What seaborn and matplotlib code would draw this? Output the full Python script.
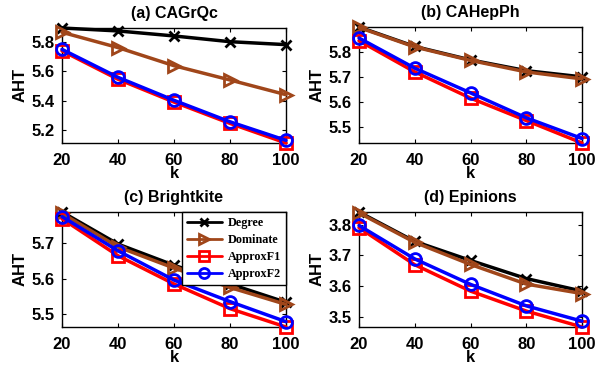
import numpy as np
import pandas as pd
import matplotlib
matplotlib.use("Agg")
import matplotlib.pyplot as plt
import seaborn as sns

k = [20, 40, 60, 80, 100]

titles = ["(a) CAGrQc", "(b) CAHepPh", "(c) Brightkite", "(d) Epinions"]
series_names = ["Degree", "Dominate", "ApproxF1", "ApproxF2"]

# (a) CAGrQc
a_degree = [5.893, 5.873, 5.839, 5.800, 5.780]
a_dominate = [5.864, 5.760, 5.637, 5.540, 5.440]
a_f1 = [5.738, 5.545, 5.390, 5.245, 5.112]
a_f2 = [5.748, 5.558, 5.402, 5.256, 5.130]

# (b) CAHepPh
b_degree = [5.900, 5.822, 5.768, 5.725, 5.700]
b_dominate = [5.898, 5.820, 5.766, 5.720, 5.692]
b_f1 = [5.845, 5.720, 5.615, 5.525, 5.435]
b_f2 = [5.856, 5.735, 5.636, 5.536, 5.453]

# (c) Brightkite
c_degree = [5.789, 5.698, 5.638, 5.585, 5.533]
c_dominate = [5.785, 5.690, 5.630, 5.575, 5.527]
c_f1 = [5.770, 5.665, 5.585, 5.515, 5.463]
c_f2 = [5.776, 5.679, 5.596, 5.535, 5.478]

# (d) Epinions
d_degree = [3.841, 3.745, 3.683, 3.624, 3.583]
d_dominate = [3.838, 3.742, 3.670, 3.606, 3.575]
d_f1 = [3.790, 3.669, 3.583, 3.518, 3.466]
d_f2 = [3.797, 3.688, 3.605, 3.535, 3.485]

panels = [
    [a_degree, a_dominate, a_f1, a_f2],
    [b_degree, b_dominate, b_f1, b_f2],
    [c_degree, c_dominate, c_f1, c_f2],
    [d_degree, d_dominate, d_f1, d_f2],
]

yticks = [
    [5.2, 5.4, 5.6, 5.8],
    [5.5, 5.6, 5.7, 5.8],
    [5.5, 5.6, 5.7],
    [3.5, 3.6, 3.7, 3.8],
]

styles = {
    "Degree": dict(color="black", marker="x", mfc="black", ms=7),
    "Dominate": dict(color="#A0461A", marker=">", mfc="none", ms=9),
    "ApproxF1": dict(color="#FF0000", marker="s", mfc="none", ms=8),
    "ApproxF2": dict(color="#0000FF", marker="o", mfc="none", ms=8.5),
}

sns.set_style("white")
plt.rcParams["font.family"] = ["Liberation Sans", "DejaVu Sans"]
plt.rcParams["font.weight"] = "bold"
for key in ["text.color", "axes.labelcolor", "xtick.color", "ytick.color"]:
    plt.rcParams[key] = "black"

fig = plt.figure(figsize=(6.08, 3.68), dpi=100)
W, H = 608.0, 368.0
boxes = [(62, 28, 286, 143), (359, 27, 582, 143), (62, 212, 286, 327), (359, 212, 582, 327)]

for i, (x0, y0, x1, y1) in enumerate(boxes):
    ax = fig.add_axes([x0 / W, 1 - y1 / H, (x1 - x0) / W, (y1 - y0) / H])
    for name, vals in zip(series_names, panels[i]):
        st = styles[name]
        sns.lineplot(x=k, y=vals, ax=ax, color=st["color"], marker=st["marker"],
                     markerfacecolor=st["mfc"], markeredgecolor=st["color"],
                     markeredgewidth=2.0, markersize=st["ms"],
                     linewidth=2.5, label=name, clip_on=False, zorder=3)
    allv = np.concatenate([np.array(v) for v in panels[i]])
    ax.set_xlim(20, 100)
    ax.set_ylim(allv.min(), allv.max())
    ax.set_xticks(k)
    ax.set_yticks(yticks[i])
    ax.set_yticklabels([f"{t:.1f}" for t in yticks[i]])
    ax.tick_params(direction="in", length=3, width=0.8, labelsize=12,
                   top=True, right=True, bottom=True, left=True)
    ax.tick_params(axis="x", pad=7)
    ax.tick_params(axis="y", pad=5)
    for lab in ax.get_xticklabels() + ax.get_yticklabels():
        lab.set_fontweight("bold")
    for sp in ax.spines.values():
        sp.set_visible(True)
        sp.set_color("black")
        sp.set_linewidth(1.0)
    ax.set_xlabel("k", fontsize=12, fontweight="bold", labelpad=-1)
    ax.set_ylabel("AHT", fontsize=12, fontweight="bold", labelpad=3)
    ax.set_title(titles[i], fontsize=11.5, fontweight="bold", pad=7)
    if i == 2:
        leg = ax.legend(loc="upper right", bbox_to_anchor=(1.0, 1.0), frameon=True,
                        fancybox=False, framealpha=1, edgecolor="black",
                        prop=dict(family="Liberation Serif", weight="bold", size=8.7),
                        handlelength=2.9, borderpad=0.4, labelspacing=0.42,
                        handletextpad=0.5, borderaxespad=0.0, markerscale=0.85)
        leg.get_frame().set_linewidth(1.0)
        for ln in leg.get_lines():
            ln.set_linewidth(2.0)
        leg.set_zorder(10)
    else:
        lg = ax.get_legend()
        if lg is not None:
            lg.remove()

fig.savefig("out.png", dpi=100)
